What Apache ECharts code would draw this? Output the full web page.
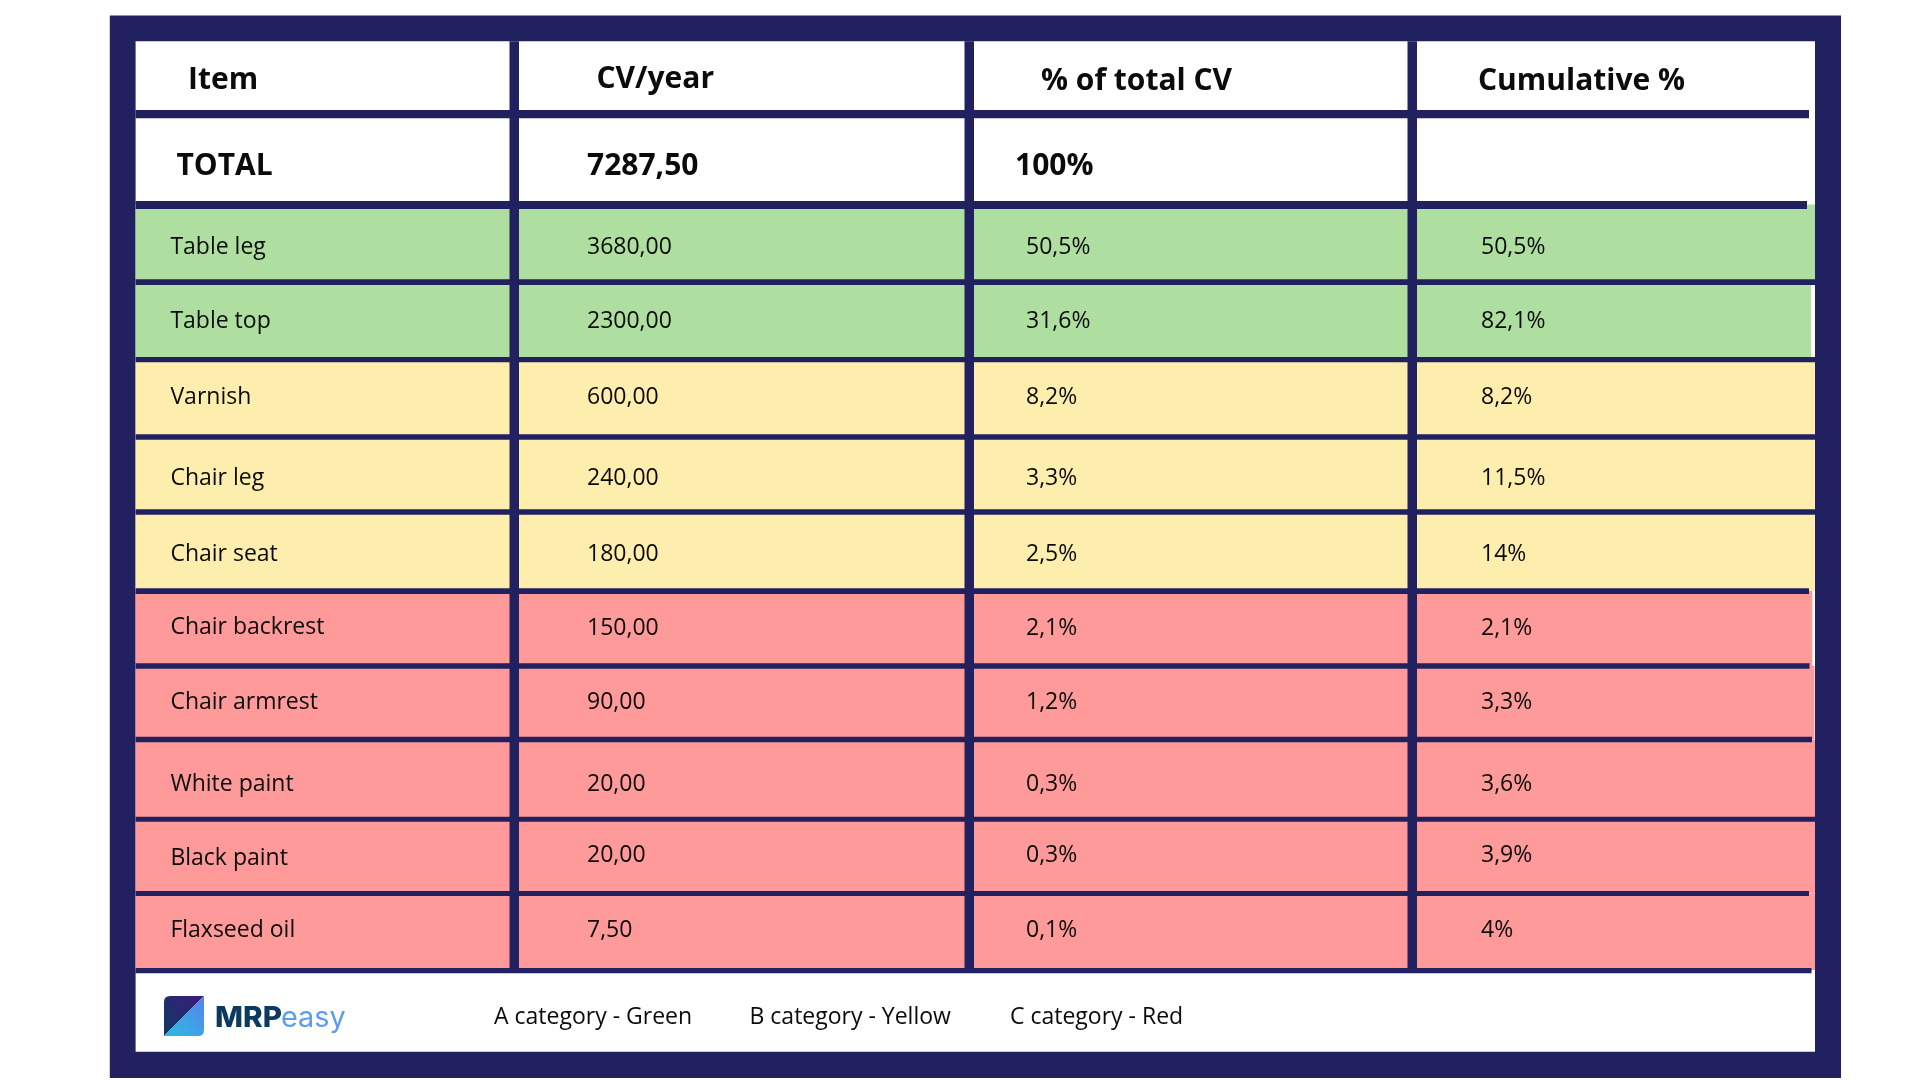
<!DOCTYPE html>
<html>
<head>
<meta charset="utf-8">
<style>html,body{margin:0;padding:0;background:#fff}#c{width:1920px;height:1080px}</style>
<script src="https://cdn.jsdelivr.net/npm/echarts@6/dist/echarts.min.js"></script>
</head>
<body>
<div id="c"></div>
<script>
// ---- table content ----
const headers = ['Item', 'CV/year', '% of total CV', 'Cumulative %'];
const totalRow = ['TOTAL', '7287,50', '100%', ''];
const items = ['Table leg','Table top','Varnish','Chair leg','Chair seat','Chair backrest','Chair armrest','White paint','Black paint','Flaxseed oil'];
const cvPerYear = [3680, 2300, 600, 240, 180, 150, 90, 20, 20, 7.5];
const pctOfTotal = [50.5, 31.6, 8.2, 3.3, 2.5, 2.1, 1.2, 0.3, 0.3, 0.1];
const cumulative = [50.5, 82.1, 8.2, 11.5, 14, 2.1, 3.3, 3.6, 3.9, 4];
const abcClass = ['A','A','B','B','B','C','C','C','C','C'];
const legendTexts = ['A category - Green','B category - Yellow','C category - Red'];

// ---- table layout, in the pixel scale of the hidden axes ----
const NAVY = '#212160';
const classColor = {A:'#aedea0', B:'#feeeae', C:'#fe9a9a'};
const colRules = [[509.5,519],[964.5,974],[1407.5,1417]];
const ruleTop = [110,201,279.3,357,434.3,509.3,588.3,663.3,736.7,816.7,891,968];
const ruleBottom = [118.3,209,285,362.3,439.7,514.7,594,668.7,742.3,821.7,896,973.3];
const ruleEnd = [1809,1807,1815,1815,1815,1815,1809,1809.5,1812,1815,1809,1811.5];
const fillTop = [204.5,282,360,437,512,591,666,739.5,819,893.5];
const fillBottom = [282,360,437,512,591,666,739.5,819,893.5,970];
const fillRight = [1815,1811,1815,1815,1815,1812.3,1814.5,1815,1815,1815];
const colX = [170.4,587,1026,1481];
const rowY = [247,321.8,397.5,478,554,628,702.5,784,855.5,930];
const itemRowY = [247,321.8,397.5,478,554,627,702,784,858,930];
const headX = [188,596.5,1041,1478];
const headY = [80.5,79.5,81.5,81.5];
const totalX = [176.5,587,1015];
const totalY = 166.4;
const legendX = [494,749.5,1010];
const legendY = 1017.5;

const fmtCv = v => v.toFixed(2).replace('.', ',');
const fmtPct = v => String(v).replace('.', ',') + '%';

function rectFor(api, x0, y0, x1, y1, fill) {
  const a = api.coord([x0, y0]), b = api.coord([x1, y1]);
  return {type:'rect', shape:{x:a[0], y:a[1], width:b[0]-a[0], height:b[1]-a[1]}, style:{fill}};
}
function textFor(api, x, y, text, size, weight) {
  const p = api.coord([x, y]);
  return {type:'text', x:p[0], y:p[1], style:{text, fill:'#0b0b0b', fontFamily:'"Open Sans"', fontSize:size, fontWeight:weight, align:'left', verticalAlign:'middle'}};
}
const customBase = {type:'custom', coordinateSystem:'cartesian2d', silent:true, animation:false, clip:false};

const option = {
  backgroundColor:'#ffffff',
  animation:false,
  grid:{left:0, right:0, top:0, bottom:0},
  xAxis:{type:'value', min:0, max:1920, show:false},
  yAxis:{type:'value', min:0, max:1080, inverse:true, show:false},
  series:[
    {...customBase, name:'frame', z:1, data:[[0]], renderItem:(p, api) => ({type:'group', children:[
      rectFor(api, 109.8, 15.5, 1841, 1078, NAVY),
      rectFor(api, 135.6, 41.3, 1815, 1051.7, '#ffffff')
    ]})},
    {...customBase, name:'rows', z:2, data:items.map((d,i)=>[i]), renderItem:(p, api) => {
      const i = p.dataIndex;
      return rectFor(api, 135.6, fillTop[i], fillRight[i], fillBottom[i], classColor[abcClass[i]]);
    }},
    {...customBase, name:'rules', z:3, data:ruleTop.map((d,i)=>[i]), renderItem:(p, api) => {
      const i = p.dataIndex;
      return rectFor(api, 135.6, ruleTop[i], ruleEnd[i], ruleBottom[i], NAVY);
    }},
    {...customBase, name:'columns', z:3, data:colRules.map((d,i)=>[i]), renderItem:(p, api) => {
      const c = colRules[p.dataIndex];
      return rectFor(api, c[0], 41.3, c[1], 972, NAVY);
    }},
    {...customBase, name:'header', z:4, data:headers.map((d,i)=>[i]), renderItem:(p, api) => {
      const i = p.dataIndex;
      return textFor(api, headX[i], headY[i], headers[i], 30, 'bold');
    }},
    {...customBase, name:'total', z:4, data:totalX.map((d,i)=>[i]), renderItem:(p, api) => {
      const i = p.dataIndex;
      return textFor(api, totalX[i], totalY, totalRow[i], 30, 'bold');
    }},
    {...customBase, name:'body', z:4, data:items.map((d,i)=>[i]), renderItem:(p, api) => {
      const i = p.dataIndex;
      const cells = [items[i], fmtCv(cvPerYear[i]), fmtPct(pctOfTotal[i]), fmtPct(cumulative[i])];
      return {type:'group', children:cells.map((t,c)=>textFor(api, colX[c], c === 0 ? itemRowY[i] : rowY[i], t, 23, 'normal'))};
    }},
    {...customBase, name:'legend', z:4, data:legendTexts.map((d,i)=>[i]), renderItem:(p, api) => {
      const i = p.dataIndex;
      return textFor(api, legendX[i], legendY, legendTexts[i], 23, 'normal');
    }},
    {...customBase, name:'logoMark', z:5, data:[[0],[1]], renderItem:(p, api) => {
      const a = api.coord([164, 996]);
      const paths = ['M0 40 L0 6 Q0 0 6 0 L40 0 Z', 'M40 0 L40 34 Q40 40 34 40 L0 40 Z'];
      const stops = [[['0','#3c1a7a'],['1','#0f3a66']], [['0','#5b80f0'],['1','#26bfe0']]][p.dataIndex];
      return {type:'path', shape:{pathData:paths[p.dataIndex], x:a[0], y:a[1], width:40, height:40, layout:'cover'},
        style:{fill:new echarts.graphic.LinearGradient(1,0,0,1,stops.map(s=>({offset:+s[0],color:s[1]})))}};
    }},
    {...customBase, name:'logoWord', z:5, data:[[0]], renderItem:(p, api) => {
      const a = api.coord([215, 1033]), b = api.coord([281, 1033]);
      return {type:'group', children:[
        {type:'text', x:a[0], y:a[1], scaleX:1.06, style:{text:'MRP', fill:'#0b3a5e', fontFamily:'Inter', fontWeight:800, fontSize:28, align:'left', verticalAlign:'bottom'}},
        {type:'text', x:b[0], y:b[1], scaleX:1.03, style:{text:'easy', fill:'#5b9df0', fontFamily:'Inter', fontWeight:400, fontSize:28, align:'left', verticalAlign:'bottom'}}
      ]};
    }}
  ]
};
const chart = echarts.init(document.getElementById('c'), null, {renderer:'canvas', width:1920, height:1080});
chart.setOption(option);
</script>
</body>
</html>
